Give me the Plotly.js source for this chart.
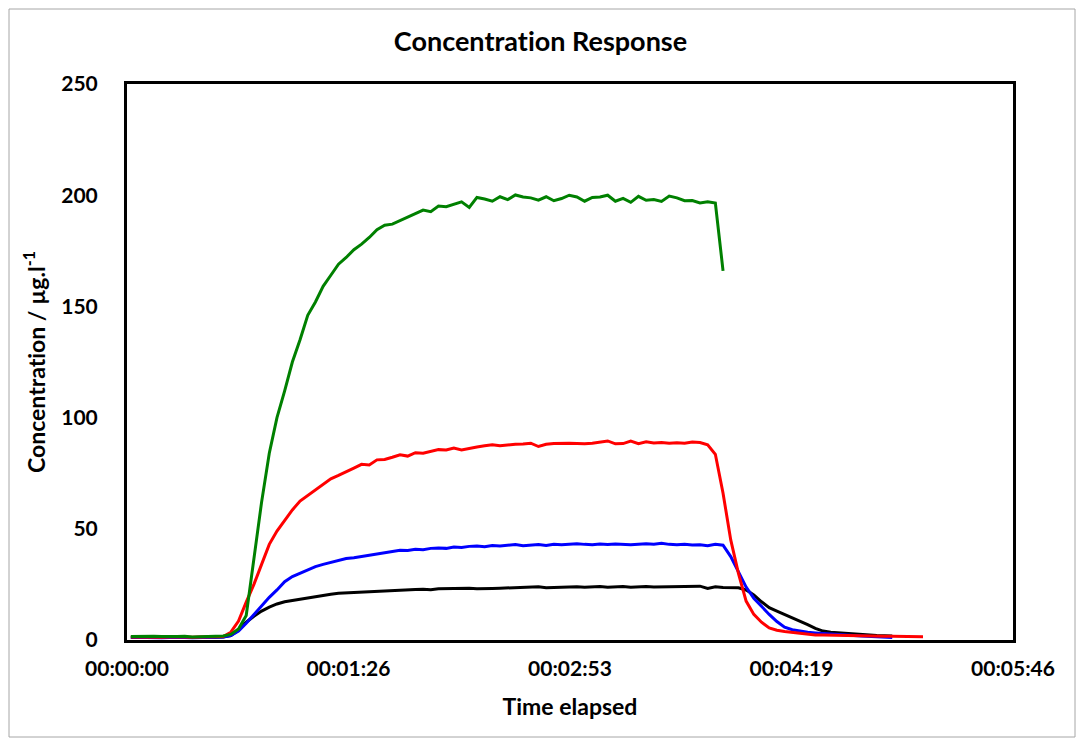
<!DOCTYPE html>
<html>
<head>
<meta charset="utf-8">
<script src="https://cdn.plot.ly/plotly-3.0.1.min.js"></script>
<style>
  html, body { margin: 0; padding: 0; background: #ffffff; }
  #chart { width: 1081px; height: 738px; }
  #chart text { font-variant-ligatures: none; font-feature-settings: "liga" 0, "clig" 0; }
</style>
</head>
<body>
<div id="chart"></div>
<script>
// Sampling of the recorded series (seconds)
const startSeconds = 1.5;
const stepSeconds = 3;

// X-axis tick positions (seconds) and their labels
const tickSeconds = [0, 86.4, 172.8, 259.2, 345.6];
const tickLabels = ["00:00:00", "00:01:26", "00:02:53", "00:04:19", "00:05:46"];

// Concentration series (µg/l)
const greenSeries = [
  1.6, 1.7, 1.6, 1.7, 1.6, 1.5, 1.6, 1.7, 1.3, 1.5, 1.6, 1.7, 1.8,
  2.5, 5, 11, 37, 62, 84, 100, 112, 125, 135, 146, 152, 159, 164, 169, 172,
  175.5, 178, 181, 184.5, 186.5, 187, 188.5, 190, 191.5, 193.3, 192.6, 195.1,
  194.8, 196, 197, 194.5, 199, 198.3, 197.3, 199.3, 198, 200.1, 199.2, 198.8,
  197.8, 199.3, 197.5, 198.5, 200, 199.2, 197.3, 199, 199.2, 200, 197.3, 198.6,
  196.8, 199.5, 197.7, 198.1, 197.2, 199.6, 198.8, 197.5, 197.6, 196.5, 197,
  196.5, 166
];

const redSeries = [
  1.4, 1.3, 1.4, 1.3, 1.2, 1.3, 1.4, 1.3, 1.2, 1.3, 1.4, 1.5, 1.6,
  3.5, 8.5, 17, 25, 34, 43, 49, 54, 58.5, 62.5, 65, 67.3, 70, 72.5, 74, 75.5,
  77.3, 79, 78.7, 81, 81.2, 82.2, 83.3, 82.7, 84.2, 84, 84.9, 85.6, 85.4, 86.3,
  85.5, 86.3, 86.8, 87.3, 87.8, 87.3, 87.8, 88, 88.1, 88.5, 87, 88, 88.4, 88.6,
  88.5, 88.4, 88.2, 88.5, 88.9, 89.5, 88.2, 88.3, 89.4, 88.3, 89.1, 88.6, 88.8,
  88.5, 88.7, 88.5, 89, 88.8, 87.8, 83.5, 66, 45, 30, 17.5, 11.5, 8, 5.4, 4.4,
  3.8, 3.4, 3, 2.6, 2.3, 2.2, 2.1, 2.0, 2.0, 1.9, 1.9, 1.8, 1.8, 1.7, 1.7, 1.6,
  1.6, 1.5, 1.5
];

const blueSeries = [
  1.2, 1.1, 1.2, 1.1, 1.0, 1.1, 1.2, 1.1, 1.0, 1.1, 1.2, 1.2, 1.3,
  2, 4, 7.5, 11.5, 15.5, 19.2, 22.5, 26.2, 28.5, 30, 31.5, 33, 34, 34.8, 35.5,
  36.6, 37, 37.5, 38.2, 38.8, 39, 39.5, 40.3, 40.2, 40.8, 40.6, 41.2, 41.4,
  41.2, 41.8, 41.6, 42.1, 42.3, 41.9, 42.5, 42.3, 42.6, 42.9, 42.4, 42.7, 42.9,
  42.5, 43.1, 42.8, 42.9, 43.3, 43, 42.8, 43.2, 42.9, 43.2, 42.9, 42.8, 43.1,
  43.3, 43.1, 43.5, 43, 42.8, 43.1, 42.7, 42.8, 42.4, 43, 42.6, 37.5, 31, 23.8,
  18.8, 15, 11.5, 8.3, 5.8, 4.6, 4, 3.5, 3.2, 2.9, 2.6, 2.4, 2.2, 2, 1.8, 1.6,
  1.5, 1.3, 1.1
];

const blackSeries = [
  1.1, 1.0, 1.1, 1.2, 1.0, 1.1, 1.2, 1.0, 1.1, 1.2, 1.1, 1.2, 1.4,
  2, 4.5, 8, 10.7, 13, 14.8, 16.2, 17.2, 17.8, 18.5, 19, 19.5, 20, 20.6, 21,
  21.2, 21.4, 21.5, 21.8, 21.7, 22.2, 22.3, 22.4, 22.8, 22.7, 22.8, 22.6, 23,
  23.1, 22.9, 23.2, 23.3, 23.1, 23.3, 23.2, 23.3, 23.4, 23.3, 23.5, 23.6, 23.9,
  23.5, 23.6, 23.8, 23.6, 23.9, 23.7, 23.8, 24, 23.7, 23.9, 24, 23.7, 23.9, 24,
  23.8, 23.9, 24, 23.8, 23.9, 24.1, 24.2, 23.2, 23.9, 23.6, 23.6, 23.5, 22.5,
  20.3, 17.2, 14.5, 13, 11.5, 10, 8.6, 6.9, 5.2, 4, 3.5, 3.2, 2.9, 2.6, 2.3,
  2.1, 2, 1.9, 1.8
];

const FONT = "Lato, 'Open Sans', sans-serif";

function series(values, color) {
  return {
    type: "scatter",
    mode: "lines",
    y: values,
    x0: startSeconds,
    dx: stepSeconds,
    line: { color: color, width: 3 },
    hoverinfo: "x+y",
    showlegend: false
  };
}

const data = [
  series(blackSeries, "#000000"),
  series(blueSeries, "#0000ff"),
  series(redSeries, "#ff0000"),
  series(greenSeries, "#008000")
];

const layout = {
  width: 1081,
  height: 738,
  paper_bgcolor: "#ffffff",
  plot_bgcolor: "#ffffff",
  margin: { l: 127, r: 68, t: 84, b: 98, pad: 0 },
  font: { family: FONT, color: "#000000", weight: "bold" },
  title: {
    text: "Concentration Response",
    font: { family: FONT, size: 27, color: "#000000", weight: "bold" },
    x: 0.5, xanchor: "center", xref: "container",
    y: 1 - 42 / 738, yanchor: "middle", yref: "container"
  },
  xaxis: {
    range: [0, 345.6],
    tickmode: "array",
    tickvals: tickSeconds,
    ticktext: tickLabels,
    showgrid: false,
    zeroline: false,
    showline: true,
    linecolor: "#000000",
    linewidth: 3,
    mirror: true,
    ticks: "",
    ticklabelstandoff: 8,
    tickfont: { family: FONT, size: 21, color: "#000000", weight: "bold" },
    title: {
      text: "Time elapsed",
      font: { family: FONT, size: 23, color: "#000000", weight: "bold" },
      standoff: 20
    },
    fixedrange: true
  },
  yaxis: {
    range: [0, 250],
    tickmode: "linear",
    tick0: 0,
    dtick: 50,
    tickformat: "d",
    showgrid: false,
    zeroline: false,
    showline: true,
    linecolor: "#000000",
    linewidth: 3,
    mirror: true,
    ticks: "",
    ticklabelstandoff: 22,
    tickfont: { family: FONT, size: 21, color: "#000000", weight: "bold" },
    title: {
      text: "Concentration / µg.l<sup>-1</sup>",
      font: { family: FONT, size: 23, color: "#000000", weight: "bold" },
      standoff: 10
    },
    fixedrange: true
  },
  shapes: [{
    type: "rect",
    xref: "paper", yref: "paper",
    x0: (9 - 127) / 886, x1: (1075 - 127) / 886,
    y0: (640 - 737) / 556, y1: (640 - 9) / 556,
    line: { color: "#a6a6a6", width: 1 },
    fillcolor: "rgba(0,0,0,0)",
    layer: "below"
  }]
};

Plotly.newPlot("chart", data, layout, { displayModeBar: false });
</script>
</body>
</html>
